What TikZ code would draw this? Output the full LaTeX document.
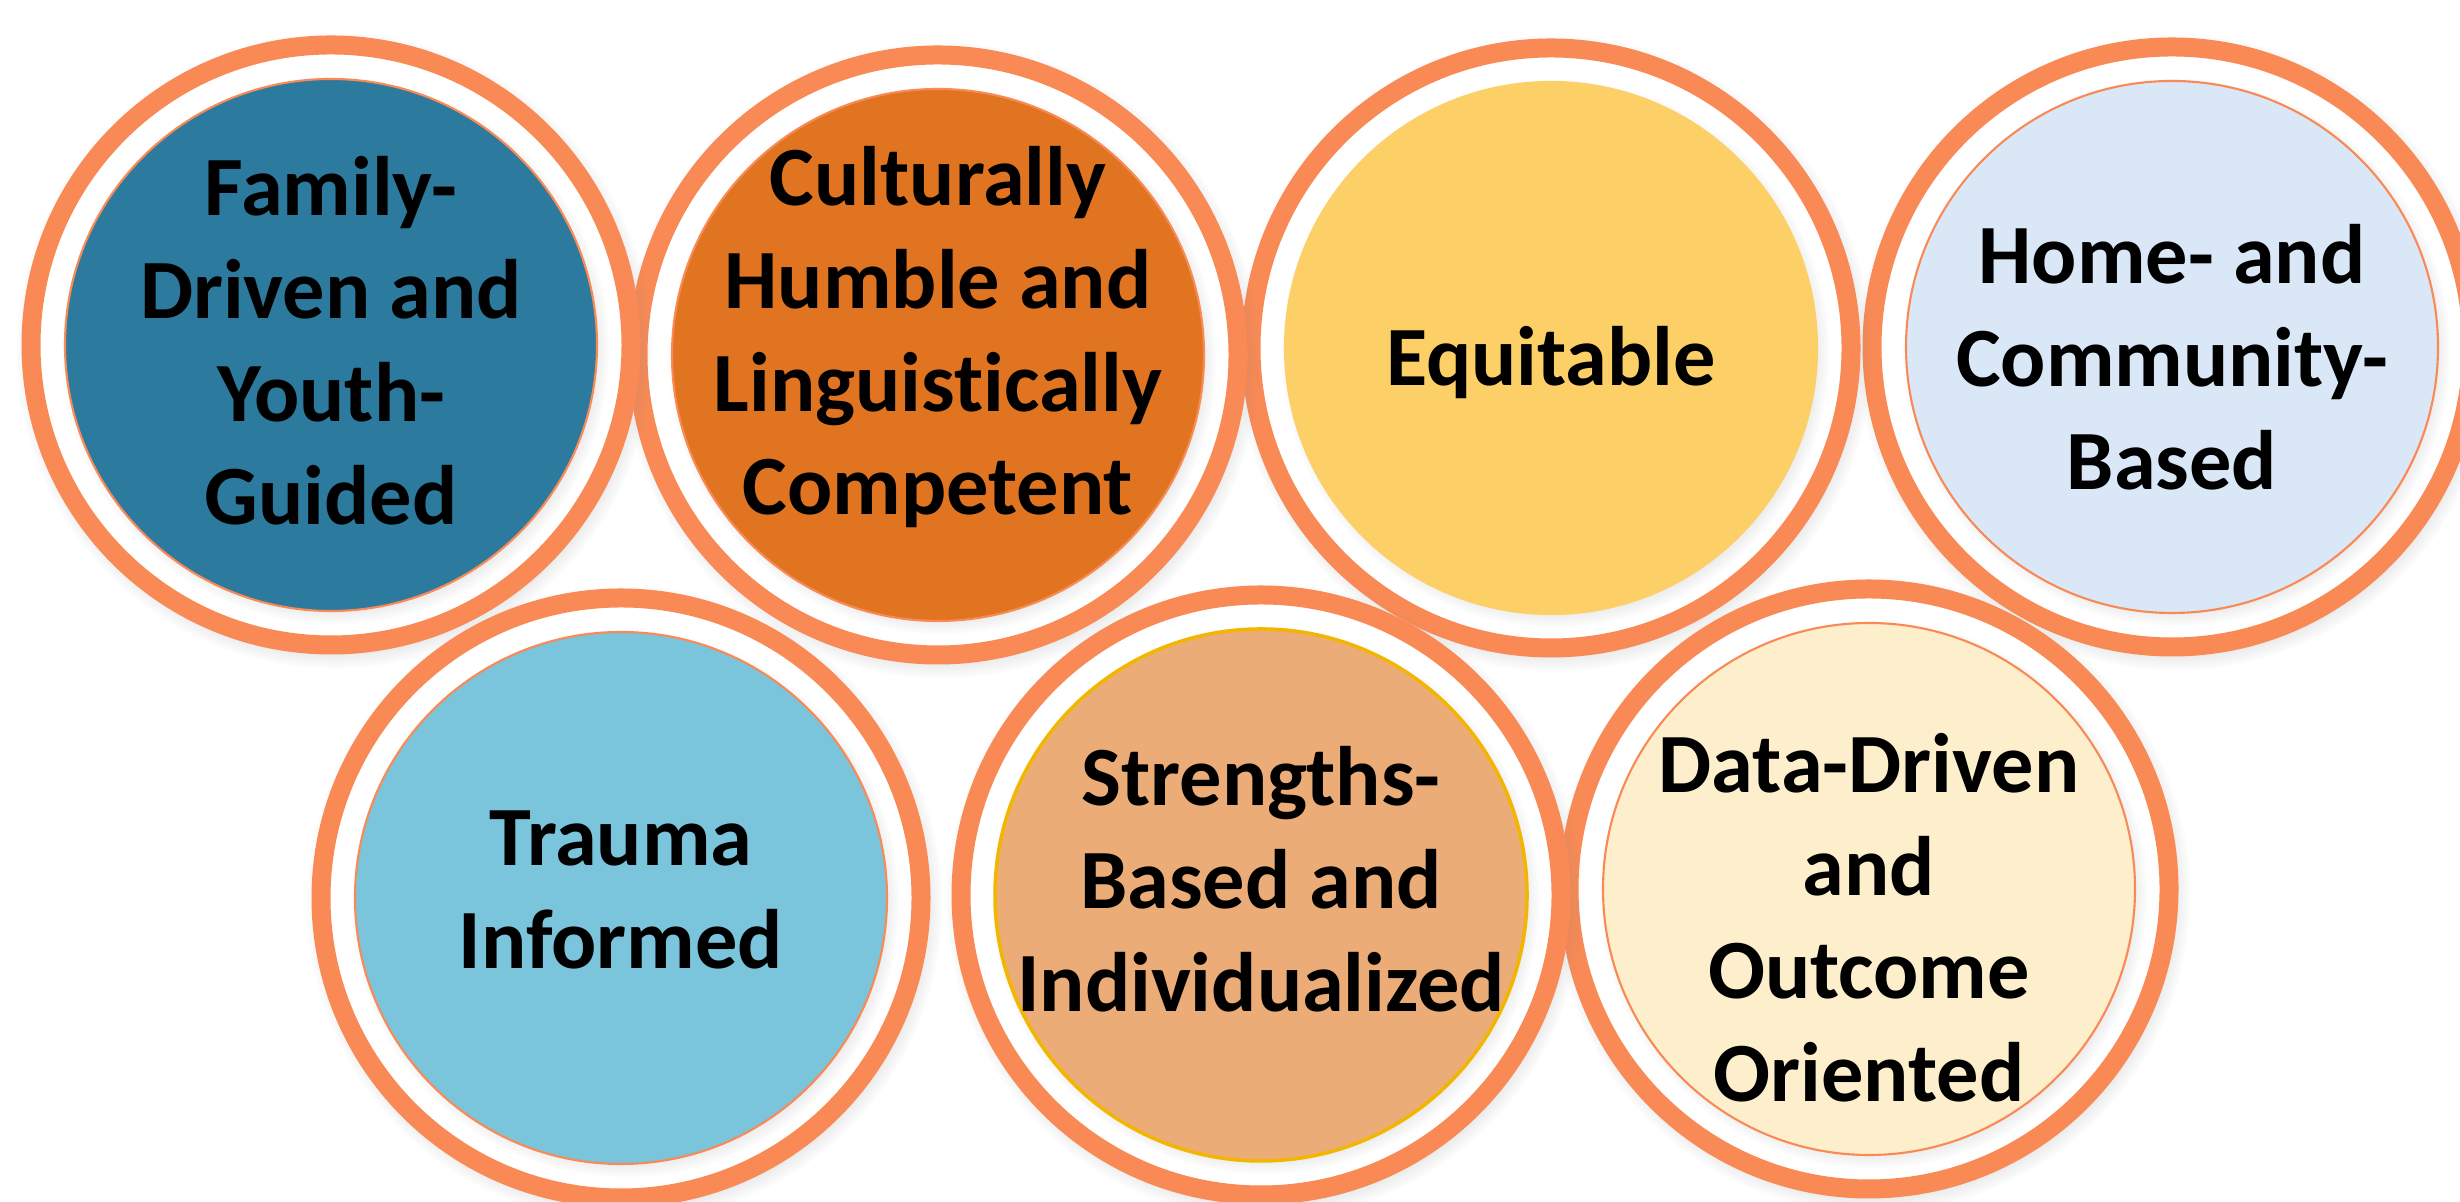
\documentclass[tikz,border=0pt]{standalone}
\usepackage{fontspec}
\setmainfont{Carlito}[Ligatures=NoCommon]
\usetikzlibrary{shapes.geometric, shadows, positioning}

\definecolor{ringorange}{HTML}{F98A55}
\definecolor{famblue}{HTML}{2C7A9E}
\definecolor{cultorange}{HTML}{E17420}
\definecolor{equyellow}{HTML}{FDCF67}
\definecolor{homeblue}{HTML}{DAE7F6}
\definecolor{traumablue}{HTML}{7AC4DC}
\definecolor{strtan}{HTML}{EBAC77}
\definecolor{strgold}{HTML}{F2B600}
\definecolor{datacream}{HTML}{FEEFCC}

\begin{document}
\begin{tikzpicture}[
    ring/.style={circle, minimum size=6cm, inner sep=0pt, fill=white, draw=ringorange, line width=0.19cm,
                 circular drop shadow={shadow xshift=0.03cm, shadow yshift=-0.05cm, shadow scale=1.06, opacity=0.45}},
    disk/.style={circle, minimum size=5.32cm, inner sep=0pt, draw=ringorange, line width=0.6pt,
                 circular drop shadow={shadow xshift=0.04cm, shadow yshift=-0.05cm, shadow scale=1.03, opacity=0.4}},
    principle/.style={align=center, inner sep=0pt, text=black, font=\bfseries\fontsize{24}{29.3}\selectfont}]

    \fill[white] (0,0) rectangle (24.6,12.02);
    \useasboundingbox (0,0) rectangle (24.6,12.02);

    % Top row
    \node[ring] (homering) at (21.72,8.55) {};
    \node[disk, fill=homeblue] (home) at (homering) {};
    \node[principle] (hometxt) at ([yshift=-0.10cm]home.center) {Home- and\\Community-\\Based};

    \node[ring] (equring) at (15.51,8.54) {};
    \node[disk, fill=equyellow, draw=equyellow] (equ) at (equring) {};
    \node[principle] (equtxt) at ([yshift=-0.15cm]equ.center) {Equitable};

    \node[ring] (cultring) at (9.38,8.47) {};
    \node[disk, fill=cultorange] (cult) at (cultring) {};
    \node[principle] (culttxt) at ([yshift=0.18cm]cult.center) {Culturally\\Humble and\\Linguistically\\Competent};

    \node[ring] (famring) at (3.31,8.57) {};
    \node[disk, fill=famblue] (fam) at (famring) {};
    \node[principle] (famtxt) at ([yshift=0.04cm]fam.center) {Family-\\Driven and\\Youth-\\Guided};

    % Bottom row
    \node[ring] (dataring) at (18.69,3.13) {};
    \node[disk, fill=datacream] (data) at (dataring) {};
    \node[principle] (datatxt) at ([yshift=-0.29cm]data.center) {Data-Driven\\and\\Outcome\\Oriented};

    \node[ring] (strring) at (12.61,3.07) {};
    \node[disk, fill=strtan, draw=strgold, line width=1pt] (str) at (strring) {};
    \node[principle] (strtxt) at ([yshift=0.16cm]str.center) {Strengths-\\Based and\\Individualized};

    \node[ring] (traumaring) at (6.21,3.04) {};
    \node[disk, fill=traumablue] (trauma) at (traumaring) {};
    \node[principle] (traumatxt) at ([yshift=0.08cm]trauma.center) {Trauma\\Informed};

\end{tikzpicture}
\end{document}
